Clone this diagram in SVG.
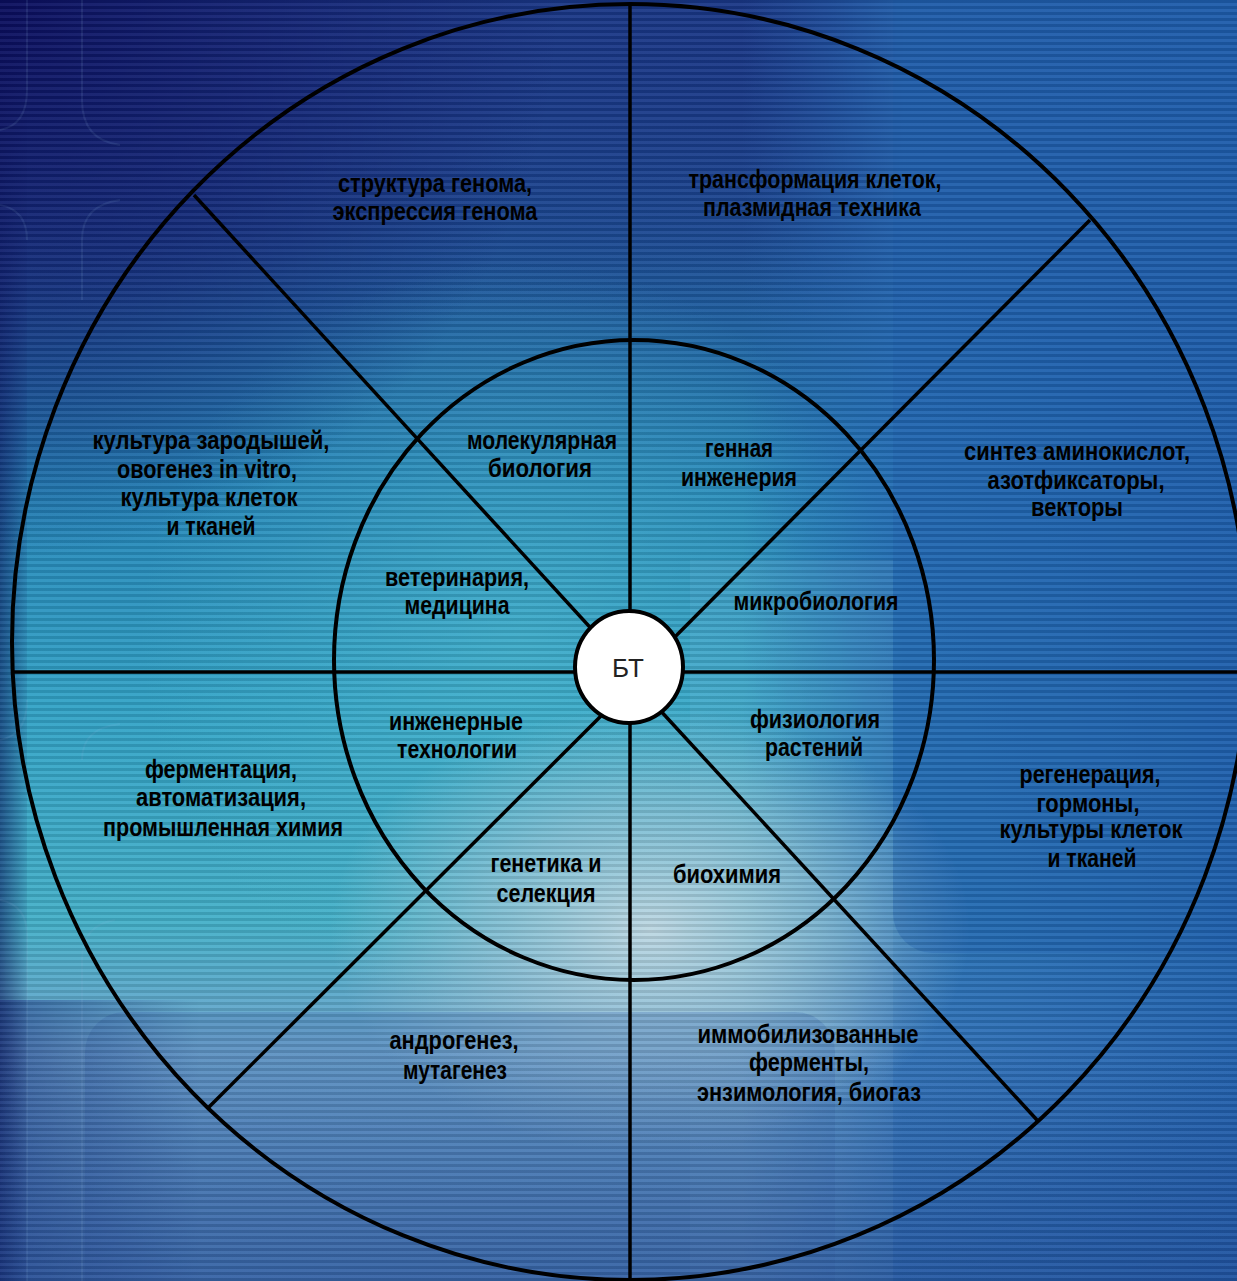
<svg xmlns="http://www.w3.org/2000/svg" width="1237" height="1281" viewBox="0 0 1237 1281">
<defs>
<linearGradient id="gBase" x1="0" y1="0" x2="0" y2="1">
<stop offset="0" stop-color="#182c80"/>
<stop offset="0.18" stop-color="#1c4c94"/>
<stop offset="0.38" stop-color="#2484b8"/>
<stop offset="0.55" stop-color="#32a2c6"/>
<stop offset="0.72" stop-color="#44b0c8"/>
<stop offset="0.82" stop-color="#6ea4cc"/>
<stop offset="1" stop-color="#4e84bc"/>
</linearGradient>
<linearGradient id="gRight" x1="0" y1="0" x2="1" y2="0">
<stop offset="0" stop-color="#2262b0" stop-opacity="0"/>
<stop offset="0.6" stop-color="#2262b0" stop-opacity="0"/>
<stop offset="0.73" stop-color="#2468b4" stop-opacity="0.8"/>
<stop offset="1" stop-color="#2060ae" stop-opacity="0.95"/>
</linearGradient>
<linearGradient id="gTop" x1="0" y1="0" x2="0" y2="1">
<stop offset="0" stop-color="#1a3a88" stop-opacity="0.8"/>
<stop offset="0.25" stop-color="#1a3a88" stop-opacity="0"/>
</linearGradient>
<radialGradient id="gTeal" cx="520" cy="640" r="380" gradientUnits="userSpaceOnUse">
<stop offset="0" stop-color="#4cbcd0" stop-opacity="0.55"/>
<stop offset="1" stop-color="#4cbcd0" stop-opacity="0"/>
</radialGradient>
<radialGradient id="gLight" cx="650" cy="930" r="320" gradientUnits="userSpaceOnUse" gradientTransform="translate(650 930) scale(1 0.7) translate(-650 -930)">
<stop offset="0" stop-color="#c4dae4" stop-opacity="0.95"/>
<stop offset="0.5" stop-color="#a8cadc" stop-opacity="0.6"/>
<stop offset="1" stop-color="#a8cadc" stop-opacity="0"/>
</radialGradient>
<radialGradient id="gNavy" cx="0" cy="0" r="560" gradientUnits="userSpaceOnUse">
<stop offset="0" stop-color="#0a0c5c" stop-opacity="0.95"/>
<stop offset="0.5" stop-color="#10186a" stop-opacity="0.6"/>
<stop offset="1" stop-color="#10186a" stop-opacity="0"/>
</radialGradient>
<linearGradient id="gLeft" x1="0" y1="0" x2="1" y2="0">
<stop offset="0" stop-color="#0a1a60" stop-opacity="0.6"/>
<stop offset="1" stop-color="#0a1a60" stop-opacity="0.1"/>
</linearGradient>
<linearGradient id="gBottom" x1="0" y1="0" x2="0" y2="1">
<stop offset="0" stop-color="#1c3c88" stop-opacity="0"/>
<stop offset="1" stop-color="#1c3c88" stop-opacity="0.4"/>
</linearGradient>
<linearGradient id="gBL" x1="0" y1="0" x2="1" y2="0">
<stop offset="0" stop-color="#1c3c88" stop-opacity="0.6"/>
<stop offset="1" stop-color="#1c3c88" stop-opacity="0"/>
</linearGradient>
<pattern id="stripes" width="6" height="6" patternUnits="userSpaceOnUse">
<rect x="0" y="0" width="6" height="3" fill="#000" fill-opacity="0.1"/>
<rect x="0" y="3" width="6" height="3" fill="#fff" fill-opacity="0.05"/>
</pattern>
</defs>
<style>
.ring{fill:none;stroke:#000;stroke-width:4}
.ln{stroke:#000;stroke-width:3.5;fill:none}
.t{font-family:"Liberation Sans",Arial,sans-serif;font-weight:bold;font-size:25px;fill:#000;text-anchor:middle}
.c{font-family:"Liberation Sans",Arial,sans-serif;font-size:26px;fill:#222;text-anchor:middle}
.tile{fill:none;stroke:#8ab8e0;stroke-opacity:0.12;stroke-width:2}
</style>
<g id="background">
<rect width="1237" height="1281" fill="url(#gBase)"/>
<rect width="1237" height="1281" fill="url(#gTop)"/>
<rect width="1237" height="1281" fill="url(#gTeal)"/>
<rect width="1237" height="1281" fill="url(#gRight)"/>
<rect x="690" y="560" width="203" height="721" fill="#8cc0e0" fill-opacity="0.12"/>
<rect width="1237" height="1281" fill="url(#gLight)"/>
<rect x="893" y="-60" width="400" height="1013" rx="40" fill="#1c58a8" fill-opacity="0.3"/>
<rect x="85" y="1012" width="750" height="320" rx="40" fill="#3a6cb0" fill-opacity="0.3"/>
<rect x="0" y="1000" width="200" height="281" fill="url(#gBL)"/>
<rect x="0" y="0" width="27" height="1281" fill="url(#gLeft)"/>
<rect width="1237" height="1281" fill="url(#gNavy)"/>
<rect x="0" y="1050" width="1237" height="231" fill="url(#gBottom)"/>
<path class="tile" d="M27 0 V90 Q27 125 0 130 M82 0 V100 Q82 140 120 145 M0 205 Q27 210 27 240 M82 300 V240 Q82 205 120 200 M27 700 Q27 735 0 740 M82 760 Q82 728 120 724 M0 900 Q27 905 27 935 V1281 M82 1281 V960 Q82 925 115 920"/>
<rect width="1237" height="1281" fill="url(#stripes)"/>
</g>
<g id="connectors">
<line class="ln" x1="630" y1="4" x2="630" y2="1281"/>
<line class="ln" x1="12" y1="672" x2="1237" y2="672"/>
<line class="ln" x1="194" y1="195" x2="620" y2="660"/>
<line class="ln" x1="1090" y1="220" x2="640" y2="672"/>
<line class="ln" x1="635" y1="683" x2="1037" y2="1120"/>
<line class="ln" x1="620" y1="697" x2="208" y2="1108"/>
</g>
<g id="rings">
<ellipse class="ring" cx="630" cy="642" rx="618" ry="638"/>
<ellipse class="ring" cx="634" cy="660" rx="300" ry="320"/>
</g>
<g id="center">
<ellipse cx="629" cy="667" rx="54" ry="56" fill="#fff" stroke="#000" stroke-width="4"/>
<text class="c" x="628" y="677">БТ</text>
</g>
<g id="outer-genome">
<text class="t" x="435" y="192" textLength="194" lengthAdjust="spacingAndGlyphs">структура генома,</text>
<text class="t" x="435" y="220" textLength="205" lengthAdjust="spacingAndGlyphs">экспрессия генома</text>
</g>
<g id="outer-transform">
<text class="t" x="815" y="188" textLength="253" lengthAdjust="spacingAndGlyphs">трансформация клеток,</text>
<text class="t" x="812" y="216" textLength="218" lengthAdjust="spacingAndGlyphs">плазмидная техника</text>
</g>
<g id="outer-synthesis">
<text class="t" x="1077" y="460" textLength="226" lengthAdjust="spacingAndGlyphs">синтез аминокислот,</text>
<text class="t" x="1076" y="489" textLength="177" lengthAdjust="spacingAndGlyphs">азотфиксаторы,</text>
<text class="t" x="1077" y="516" textLength="92" lengthAdjust="spacingAndGlyphs">векторы</text>
</g>
<g id="outer-regeneration">
<text class="t" x="1090" y="783" textLength="141" lengthAdjust="spacingAndGlyphs">регенерация,</text>
<text class="t" x="1088" y="812" textLength="103" lengthAdjust="spacingAndGlyphs">гормоны,</text>
<text class="t" x="1091" y="838" textLength="183" lengthAdjust="spacingAndGlyphs">культуры клеток</text>
<text class="t" x="1092" y="867" textLength="89" lengthAdjust="spacingAndGlyphs">и тканей</text>
</g>
<g id="outer-enzymes">
<text class="t" x="808" y="1043" textLength="221" lengthAdjust="spacingAndGlyphs">иммобилизованные</text>
<text class="t" x="809" y="1071" textLength="120" lengthAdjust="spacingAndGlyphs">ферменты,</text>
<text class="t" x="809" y="1101" textLength="224" lengthAdjust="spacingAndGlyphs">энзимология, биогаз</text>
</g>
<g id="outer-androgenesis">
<text class="t" x="454" y="1049" textLength="129" lengthAdjust="spacingAndGlyphs">андрогенез,</text>
<text class="t" x="455" y="1079" textLength="104" lengthAdjust="spacingAndGlyphs">мутагенез</text>
</g>
<g id="outer-fermentation">
<text class="t" x="221" y="778" textLength="152" lengthAdjust="spacingAndGlyphs">ферментация,</text>
<text class="t" x="221" y="806" textLength="170" lengthAdjust="spacingAndGlyphs">автоматизация,</text>
<text class="t" x="223" y="836" textLength="240" lengthAdjust="spacingAndGlyphs">промышленная химия</text>
</g>
<g id="outer-embryo">
<text class="t" x="211" y="449" textLength="237" lengthAdjust="spacingAndGlyphs">культура зародышей,</text>
<text class="t" x="207" y="478" textLength="180" lengthAdjust="spacingAndGlyphs">овогенез in vitro,</text>
<text class="t" x="209" y="506" textLength="177" lengthAdjust="spacingAndGlyphs">культура клеток</text>
<text class="t" x="211" y="535" textLength="89" lengthAdjust="spacingAndGlyphs">и тканей</text>
</g>
<g id="inner-molbio">
<text class="t" x="542" y="449" textLength="150" lengthAdjust="spacingAndGlyphs">молекулярная</text>
<text class="t" x="540" y="477" textLength="104" lengthAdjust="spacingAndGlyphs">биология</text>
</g>
<g id="inner-genetic-eng">
<text class="t" x="739" y="457" textLength="68" lengthAdjust="spacingAndGlyphs">генная</text>
<text class="t" x="739" y="486" textLength="116" lengthAdjust="spacingAndGlyphs">инженерия</text>
</g>
<g id="inner-microbio">
<text class="t" x="816" y="610" textLength="165" lengthAdjust="spacingAndGlyphs">микробиология</text>
</g>
<g id="inner-plantphys">
<text class="t" x="815" y="728" textLength="130" lengthAdjust="spacingAndGlyphs">физиология</text>
<text class="t" x="814" y="756" textLength="98" lengthAdjust="spacingAndGlyphs">растений</text>
</g>
<g id="inner-biochem">
<text class="t" x="727" y="883" textLength="108" lengthAdjust="spacingAndGlyphs">биохимия</text>
</g>
<g id="inner-genetics">
<text class="t" x="546" y="872" textLength="111" lengthAdjust="spacingAndGlyphs">генетика и</text>
<text class="t" x="546" y="902" textLength="99" lengthAdjust="spacingAndGlyphs">селекция</text>
</g>
<g id="inner-engtech">
<text class="t" x="456" y="730" textLength="134" lengthAdjust="spacingAndGlyphs">инженерные</text>
<text class="t" x="457" y="758" textLength="120" lengthAdjust="spacingAndGlyphs">технологии</text>
</g>
<g id="inner-vetmed">
<text class="t" x="457" y="586" textLength="144" lengthAdjust="spacingAndGlyphs">ветеринария,</text>
<text class="t" x="457" y="614" textLength="105" lengthAdjust="spacingAndGlyphs">медицина</text>
</g>
</svg>
